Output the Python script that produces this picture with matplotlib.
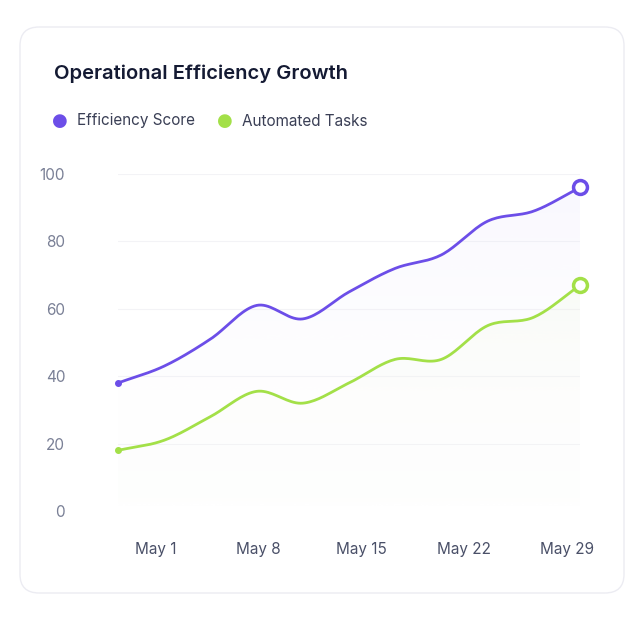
import numpy as np
import matplotlib.pyplot as plt
from matplotlib.patches import FancyBboxPatch, Polygon
from matplotlib.colors import LinearSegmentedColormap

plt.rcParams["font.family"] = ["Inter", "DejaVu Sans"]

# day offsets relative to May 1
days = [-2.6, 0.55, 3.7, 6.85, 10.0, 13.15, 16.3, 19.45, 22.6, 25.75, 28.9]
efficiency = [38, 43, 51, 61, 57, 65, 72, 76, 86, 89, 96]
automated = [18, 21, 28, 35.5, 32, 38, 45, 45, 55, 57.5, 67]
tick_days = [0, 7, 14, 21, 28]
tick_labels = ["May 1", "May 8", "May 15", "May 22", "May 29"]

PURPLE = "#6c4ee8"
GREEN = "#a3e048"


def smooth(x, y, n=20):
    # Catmull-Rom spline through the points
    x = np.asarray(x, float)
    y = np.asarray(y, float)
    px = np.concatenate([[2 * x[0] - x[1]], x, [2 * x[-1] - x[-2]]])
    py = np.concatenate([[2 * y[0] - y[1]], y, [2 * y[-1] - y[-2]]])
    xs, ys = [], []
    t = np.linspace(0, 1, n, endpoint=False)
    for i in range(1, len(px) - 2):
        for p, out in ((px, xs), (py, ys)):
            p0, p1, p2, p3 = p[i - 1], p[i], p[i + 1], p[i + 2]
            out.extend(0.5 * (2 * p1 + (-p0 + p2) * t
                              + (2 * p0 - 5 * p1 + 4 * p2 - p3) * t ** 2
                              + (-p0 + 3 * p1 - 3 * p2 + p3) * t ** 3))
    xs.append(x[-1])
    ys.append(y[-1])
    return np.array(xs), np.array(ys)


fig = plt.figure(figsize=(6.4, 6.19), dpi=100)
fig.patch.set_facecolor("white")
card = FancyBboxPatch((20 / 640, 26 / 619), 604 / 640, 566 / 619,
                      boxstyle="round,pad=0,rounding_size=0.03",
                      transform=fig.transFigure, facecolor="white",
                      edgecolor="#ececf2", linewidth=1, zorder=-10)
fig.patches.append(card)

fig.text(54 / 640, 1 - 74 / 619, "Operational Efficiency Growth", fontsize=14.5,
         fontweight="semibold", color="#141a33", va="center")
fig.text(60 / 640, 1 - 121 / 619, "●", color=PURPLE, fontsize=13, va="center", ha="center",
         family="DejaVu Sans")
fig.text(77 / 640, 1 - 121 / 619, "Efficiency Score", color="#3a3f55", fontsize=11, va="center")
fig.text(225 / 640, 1 - 121 / 619, "●", color=GREEN, fontsize=13, va="center", ha="center",
         family="DejaVu Sans")
fig.text(242 / 640, 1 - 121 / 619, "Automated Tasks", color="#3a3f55", fontsize=11, va="center")

ax = fig.add_axes([118 / 640, 1 - 511 / 619, 462 / 640, 337 / 619])
ax.patch.set_alpha(0)
ax.set_xlim(days[0], days[-1])
ax.set_ylim(0, 100)
for s in ax.spines.values():
    s.set_visible(False)
ax.set_yticks(range(0, 101, 20))
ax.tick_params(axis="y", length=0, pad=38, labelsize=11, labelcolor="#7a8096")
ax.tick_params(axis="x", length=0, pad=22, labelsize=11, labelcolor="#4a5068")
ax.set_xticks(tick_days)
ax.set_xticklabels(tick_labels)
for yv in range(20, 101, 20):
    ax.axhline(yv, color="#f3f3f6", lw=0.8, zorder=0)

for vals, col in ((efficiency, PURPLE), (automated, GREEN)):
    sx, sy = smooth(days, vals)
    cmap = LinearSegmentedColormap.from_list("g", [(1, 1, 1, 0), col])
    grad = np.linspace(0, 1, 256).reshape(-1, 1)
    im = ax.imshow(grad, extent=[days[0], days[-1], 0, max(vals)], origin="lower",
                   cmap=cmap, vmin=0, vmax=5, aspect="auto", zorder=1)
    poly = Polygon(np.column_stack([np.r_[sx, sx[-1], sx[0]], np.r_[sy, 0, 0]]),
                   closed=True, transform=ax.transData, facecolor="none", edgecolor="none")
    ax.add_patch(poly)
    im.set_clip_path(poly)
    ax.plot(sx, sy, color=col, lw=2, zorder=3, solid_capstyle="round")
    ax.plot(days[0], vals[0], "o", color=col, ms=4, zorder=4, clip_on=False)
    ax.plot(days[-1], vals[-1], "o", mfc="white", mec=col, mew=2.5, ms=10,
            zorder=5, clip_on=False)

fig.savefig("out.png", dpi=100)
